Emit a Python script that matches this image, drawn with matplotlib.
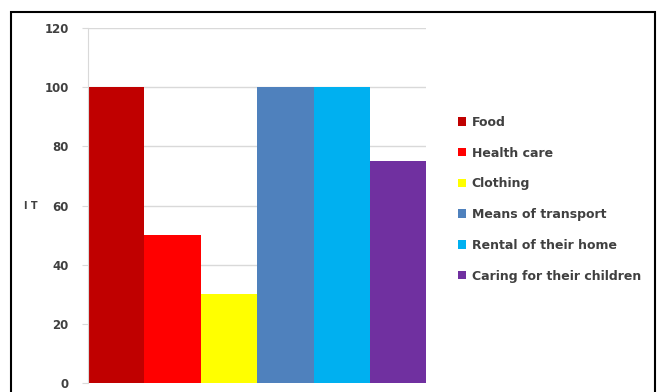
import matplotlib
matplotlib.use('Agg')
from matplotlib import pyplot as plt
from matplotlib.patches import Rectangle, Patch

categories = ['Food', 'Health care', 'Clothing', 'Means of transport',
              'Rental of their home', 'Caring for their children']
values = [100, 50, 30, 100, 100, 75]
colors = ['#c00000', '#ff0000', '#ffff00', '#4f81bd', '#00b0f0', '#7030a0']
y_ticks = [0, 20, 40, 60, 80, 100, 120]

fig = plt.figure(figsize=(6.62, 3.92), dpi=100)
ax = fig.add_axes([0.133, 0.023, 0.511, 0.905])

x = list(range(len(categories)))
ax.bar(x, values, width=1.0, color=colors, zorder=2)
ax.set_xlim(-0.5, len(categories) - 0.5)
ax.set_ylim(0, 120)
ax.set_yticks(y_ticks)
ax.set_xticks([])
ax.grid(axis='y', color='#d9d9d9', linewidth=1, zorder=0)
for side in ['top', 'right', 'bottom']:
    ax.spines[side].set_visible(False)
ax.spines['left'].set_color('#d9d9d9')
ax.tick_params(axis='y', length=4, color='#d9d9d9', labelsize=8.5,
               labelcolor='#404040', pad=10)
for lbl in ax.get_yticklabels():
    lbl.set_fontweight('bold')
ax.set_ylabel('I T', rotation=0, fontsize=7, fontweight='bold',
              color='#404040', labelpad=10, va='center')

handles = [Patch(facecolor=c) for c in colors]
leg = fig.legend(handles, categories, loc='center left',
                 bbox_to_anchor=(0.675, 0.492), frameon=False,
                 handlelength=0.65, handleheight=0.65,
                 handletextpad=0.45, labelspacing=1.42,
                 prop={'weight': 'bold', 'size': 9})
for t in leg.get_texts():
    t.set_color('#404040')

# outer border around the chart
fig.patches.append(Rectangle((11 / 662, -0.05), 644 / 662, 1.05 - 12 / 392,
                             transform=fig.transFigure, fill=False,
                             edgecolor='black', linewidth=1.5, clip_on=False))

fig.savefig('out.png', dpi=100)
